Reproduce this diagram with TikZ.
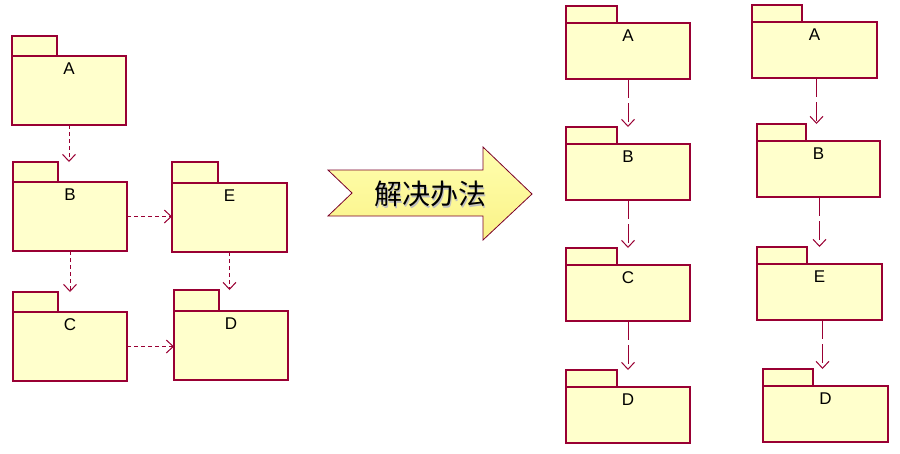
\documentclass[tikz,border=0pt]{standalone}
\usepackage{fontspec}
\setmainfont{Liberation Sans}
\newfontfamily\cjk{Noto Sans CJK SC}
\usetikzlibrary{arrows.meta}
\definecolor{pkgfill}{RGB}{255,255,204}
\definecolor{pkgline}{RGB}{153,0,51}
\tikzset{
  pkgbox/.style={draw=pkgline, fill=pkgfill, line width=1.2pt, inner sep=0pt, outer sep=0pt},
  pkglabel/.style={font=\fontsize{17}{17}\selectfont, inner sep=0pt},
  dep/.style={draw=pkgline, line width=1pt, -{Straight Barb[length=7pt,width=13pt,line width=1pt]}},
  depshort/.style={dep, dash pattern=on 4pt off 3pt},
  deplong/.style={dep, dash pattern=on 19pt off 5pt},
  bigarrow/.style={draw=pkgline!80!black, line width=0.8pt, top color={rgb,255:red,255;green,255;blue,175}, bottom color={rgb,255:red,250;green,242;blue,135}}
}
% name, x1, x2, tabright, tabtop, bodytop, bottom, label
\newcommand\pkgbox[8]{%
  \node[pkgbox, anchor=north west, minimum width={#4-#2}, minimum height={#6-#5}] (#1-tab) at (#2,#5) {};
  \node[pkgbox, anchor=north west, minimum width={#3-#2}, minimum height={#7-#6}] (#1) at (#2,#6) {};
  \node[pkglabel] (#1-lbl) at ([yshift=-13pt]#1.north) {#8};
}
\begin{document}
\begin{tikzpicture}[x=1pt,y=-1pt]
\useasboundingbox (0,0) rectangle (900,453);
% left group
\pkgbox{lA}{12}{126}{57}{36}{56}{125}{A}
\pkgbox{lB}{13}{127}{58}{162}{182}{251}{B}
\pkgbox{lE}{172}{287}{218}{162}{183}{252}{E}
\pkgbox{lC}{13}{127}{58}{292}{312}{381}{C}
\pkgbox{lD}{174}{288}{219}{290}{311}{380}{D}
\draw[depshort] (lA.south) -- (lA.south |- lB-tab.north);
\draw[depshort] (lB.south) -- (lB.south |- lC-tab.north);
\draw[depshort] (lE.south) -- (lE.south |- lD-tab.north);
\draw[depshort] (lB.east) -- (lB.east -| lE.west);
\draw[depshort] (lC.east) -- (lC.east -| lD.west);
% big arrow
\draw[bigarrow] (328,170) -- (483,170) -- (483,147) -- (532,194) -- (483,240) -- (483,216) -- (328,216) -- (352,193) -- cycle;
\node[font=\cjk\fontsize{28}{28}\selectfont, text=black!25, inner sep=0pt] (solshadow) at (431.5,195.5) {解决办法};
\node[font=\cjk\fontsize{28}{28}\selectfont, inner sep=0pt] (sol) at (430,194) {解决办法};
% right group 1
\pkgbox{rA}{566}{690}{617}{6}{23}{79}{A}
\pkgbox{rB}{566}{690}{617}{127}{144}{200}{B}
\pkgbox{rC}{566}{690}{617}{248}{265}{321}{C}
\pkgbox{rD}{566}{690}{617}{370}{387}{443}{D}
\draw[deplong] (rA.south) -- (rA.south |- rB-tab.north);
\draw[deplong] (rB.south) -- (rB.south |- rC-tab.north);
\draw[deplong] (rC.south) -- (rC.south |- rD-tab.north);
% right group 2
\pkgbox{sA}{752}{877}{802}{5}{22}{78}{A}
\pkgbox{sB}{757}{880}{806}{124}{141}{197}{B}
\pkgbox{sE}{757}{882}{807}{247}{264}{320}{E}
\pkgbox{sD}{763}{888}{813}{369}{386}{442}{D}
\draw[deplong] ([xshift=2pt]sA.south) -- ([xshift=2pt]sA.south |- sB-tab.north);
\draw[deplong] ([xshift=1pt]sB.south) -- ([xshift=1pt]sB.south |- sE-tab.north);
\draw[deplong] ([xshift=3pt]sE.south) -- ([xshift=3pt]sE.south |- sD-tab.north);
\end{tikzpicture}
\end{document}
